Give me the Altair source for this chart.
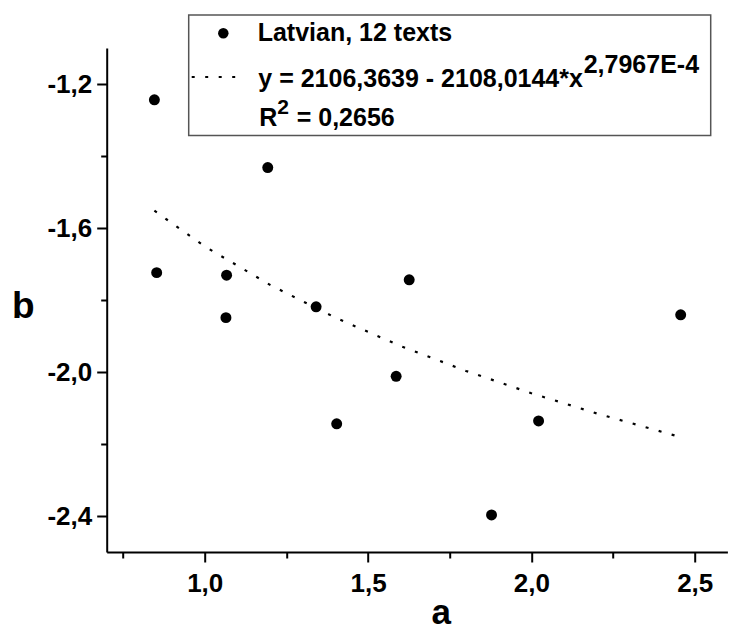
import altair as alt
import pandas as pd

# ---- data ----
a_vals = [0.846, 1.193, 0.853, 1.067, 1.065, 1.341, 1.626, 1.404, 1.586, 2.022, 2.457, 1.878]
b_vals = [-1.244, -1.432, -1.724, -1.731, -1.849, -1.819, -1.744, -2.144, -2.012, -2.136, -1.841, -2.397]

fit_a = [0.846, 1.0, 1.2, 1.4, 1.6, 1.8, 2.0, 2.2, 2.457]
fit_b = [-1.552, -1.651, -1.758, -1.849, -1.928, -1.997, -2.059, -2.115, -2.181]

x_major = [1.0, 1.5, 2.0, 2.5]
x_minor = [0.75, 1.25, 1.75, 2.25]
y_major = [-1.2, -1.6, -2.0, -2.4]
y_minor = [-1.4, -1.8, -2.2]

legend_series = "Latvian, 12 texts"
legend_eq = "y = 2106,3639 - 2108,0144*x"
legend_exp = "2,7967E-4"
legend_r = "R"
legend_r_sup = "2"
legend_r_val = "= 0,2656"

FONT = "Liberation Sans"

pts = pd.DataFrame({"a": a_vals, "b": b_vals})
fit = pd.DataFrame({"fa": fit_a, "fb": fit_b})
one = pd.DataFrame({"k": [0]})

xs = alt.Scale(domain=[0.7, 2.6], nice=False, zero=False)
ys = alt.Scale(domain=[-2.5, -1.1], nice=False, zero=False)

x_lab = "replace(format(datum.value, '.1f'), '.', ',')"
y_lab = "'-' + replace(format(abs(datum.value), '.1f'), '.', ',')"

x_axis = alt.Axis(values=x_major, labelExpr=x_lab, tickSize=10, orient="bottom",
                  title="a", titleFontSize=35, titleX=334, titleY=71,
                  titleBaseline="alphabetic", titleAlign="center", titleAngle=0,
                  labelPadding=8)
y_axis = alt.Axis(values=y_major, labelExpr=y_lab, tickSize=10, orient="left",
                  title="b", titleFontSize=37, titleX=-84, titleY=269,
                  titleBaseline="alphabetic", titleAlign="center", titleAngle=0,
                  labelPadding=5)

points = alt.Chart(pts).mark_circle(size=120, color="black", opacity=1).encode(
    x=alt.X("a:Q", scale=xs, axis=x_axis),
    y=alt.Y("b:Q", scale=ys, axis=y_axis),
)

x_axis_minor = alt.Axis(values=x_minor, labels=False, tickSize=6, domain=False,
                        orient="bottom", title=None)
y_axis_minor = alt.Axis(values=y_minor, labels=False, tickSize=6, domain=False,
                        orient="left", title=None)

fit_line = alt.Chart(fit).mark_line(color="black", strokeWidth=2.2,
                                    strokeDash=[3, 10.5]).encode(
    x=alt.X("fa:Q", scale=xs, axis=x_axis_minor),
    y=alt.Y("fb:Q", scale=ys, axis=y_axis_minor),
)

box = alt.Chart(one).mark_rect(fill="white", stroke="#555", strokeWidth=1.5).encode(
    x=alt.value(82), x2=alt.value(604), y=alt.value(-33), y2=alt.value(87.5)
)

leg_dot = alt.Chart(one).mark_circle(size=110, color="black", opacity=1).encode(
    x=alt.value(116.6), y=alt.value(-14.7)
)
leg_line = alt.Chart(one).mark_rule(color="black", strokeWidth=2.2,
                                    strokeDash=[3, 10.5]).encode(
    x=alt.value(85), x2=alt.value(137), y=alt.value(29)
)


def leg_text(txt, x, y, size=25):
    return alt.Chart(one).mark_text(
        text=txt, align="left", baseline="alphabetic", font=FONT,
        fontWeight="bold", fontSize=size, color="black"
    ).encode(x=alt.value(x), y=alt.value(y))


t1 = leg_text(legend_series, 151, -7)
t2 = leg_text(legend_eq, 151.6, 39)
t3 = leg_text(legend_exp, 477, 25.3)
t4 = leg_text(legend_r, 152.6, 78)
t5 = leg_text(legend_r_sup, 170.5, 66, size=21)
t6 = leg_text(legend_r_val, 190, 78)

chart = alt.layer(points, fit_line, box, leg_dot, leg_line, t1, t2, t3, t4, t5, t6).resolve_axis(
    x="independent", y="independent"
).properties(
    width=620.7, height=504,
    autosize=alt.AutoSizeParams(type="none"),
    padding={"left": 106.7, "top": 48, "right": 1.6, "bottom": 79},
    background="white",
).configure_view(stroke=None).configure_axis(
    grid=False, domainColor="black", domainWidth=2, tickColor="black", tickWidth=2,
    labelFont=FONT, labelFontWeight="bold", labelFontSize=26, labelColor="black",
    titleFont=FONT, titleFontWeight="bold", titleColor="black",
)

chart.save("out.html", embed_options={"renderer": "svg", "actions": False})
